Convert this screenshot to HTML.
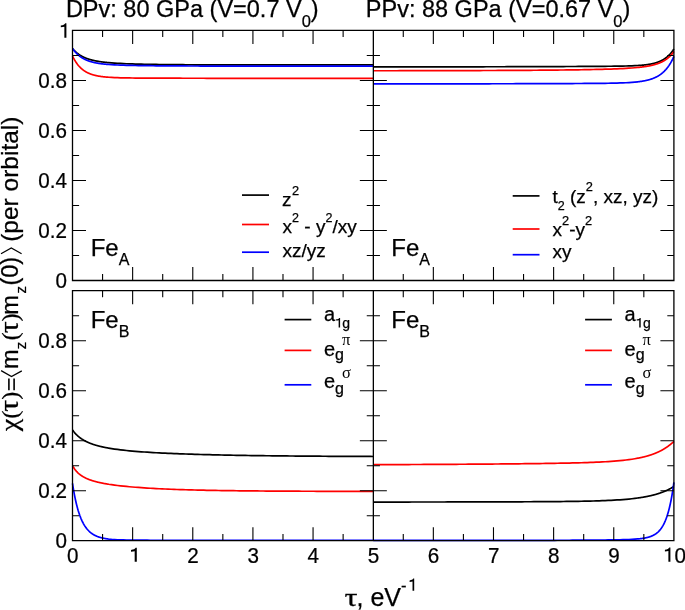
<!DOCTYPE html>
<html><head><meta charset="utf-8"><style>
html,body{margin:0;padding:0;background:#fff;overflow:hidden;}
svg{display:block;will-change:transform;}
text{font-family:"Liberation Sans",sans-serif;fill:#000;stroke:#000;stroke-width:0.25px;}
.ser{font-family:"Liberation Serif",serif;}
.thin{stroke-width:0;}
</style></head><body>
<svg width="685" height="610" viewBox="0 0 685 610">
<rect width="685" height="610" fill="#fff"/>
<g fill="none" stroke-width="1.7" stroke-linejoin="round">
<path d="M72.50,48.49 72.73,48.76 72.95,49.02 73.18,49.29 73.41,49.54 73.63,49.79 73.86,50.04 74.09,50.28 74.32,50.52 74.54,50.75 74.77,50.97 75.00,51.20 75.22,51.42 75.45,51.63 75.68,51.84 75.90,52.04 76.13,52.25 76.36,52.44 76.58,52.64 76.81,52.83 77.04,53.01 77.27,53.20 77.49,53.37 77.72,53.55 77.95,53.72 78.17,53.89 78.40,54.06 78.63,54.22 78.85,54.38 79.08,54.54 79.31,54.69 79.54,54.84 79.76,54.99 79.99,55.13 80.22,55.28 80.44,55.42 80.67,55.55 80.90,55.69 81.12,55.82 81.35,55.95 81.58,56.08 81.80,56.20 82.03,56.33 82.26,56.45 82.49,56.56 82.71,56.68 82.94,56.79 83.17,56.91 83.39,57.02 83.62,57.12 83.85,57.23 84.07,57.34 84.30,57.44 84.53,57.54 84.75,57.64 84.98,57.74 85.21,57.83 85.44,57.92 85.66,58.02 85.89,58.11 86.12,58.20 86.34,58.28 86.57,58.37 86.80,58.45 87.02,58.54 87.25,58.62 87.48,58.70 87.71,58.78 87.93,58.86 88.16,58.93 88.39,59.01 88.61,59.08 88.84,59.16 89.07,59.23 89.29,59.30 89.52,59.37 89.75,59.43 89.97,59.50 90.20,59.57 90.43,59.63 90.66,59.70 90.88,59.76 91.11,59.82 91.34,59.88 91.56,59.94 91.79,60.00 92.02,60.06 92.24,60.11 92.47,60.17 92.70,60.23 92.92,60.28 93.15,60.33 93.38,60.39 93.61,60.44 93.83,60.49 94.06,60.54 94.29,60.59 94.51,60.64 94.74,60.69 94.97,60.73 95.19,60.78 95.42,60.83 95.65,60.87 95.88,60.92 96.10,60.96 96.33,61.00 96.56,61.05 96.78,61.09 97.01,61.13 97.24,61.17 97.46,61.21 97.69,61.25 97.92,61.29 98.14,61.33 98.37,61.37 98.60,61.40 98.83,61.44 99.05,61.48 99.28,61.51 99.51,61.55 99.73,61.58 99.96,61.62 100.19,61.65 100.41,61.69 100.64,61.72 100.87,61.75 101.09,61.78 101.32,61.82 101.55,61.85 101.78,61.88 102.00,61.91 102.23,61.94 102.46,61.97 102.68,62.00 102.91,62.03 103.14,62.05 103.36,62.08 103.59,62.11 103.82,62.14 104.05,62.16 104.27,62.19 104.50,62.22 104.73,62.24 104.95,62.27 105.18,62.29 105.41,62.32 105.63,62.34 105.86,62.37 106.09,62.39 106.31,62.42 106.54,62.44 106.77,62.46 107.00,62.49 107.22,62.51 107.45,62.53 107.68,62.55 107.90,62.58 108.13,62.60 108.36,62.62 108.58,62.64 111.56,62.89 114.53,63.11 117.50,63.30 120.48,63.47 123.45,63.61 126.42,63.74 129.40,63.86 132.37,63.96 135.34,64.05 138.32,64.13 141.29,64.20 144.26,64.26 147.24,64.32 150.21,64.38 153.18,64.42 156.16,64.47 159.13,64.51 162.10,64.54 165.08,64.57 168.05,64.60 171.02,64.63 173.99,64.66 176.97,64.68 179.94,64.70 182.91,64.72 185.89,64.73 188.86,64.75 191.83,64.76 194.81,64.78 197.78,64.79 200.75,64.80 203.73,64.81 206.70,64.82 209.67,64.82 212.65,64.83 215.62,64.84 218.59,64.85 221.57,64.85 224.54,64.86 227.51,64.86 230.49,64.87 233.46,64.87 236.43,64.87 239.41,64.88 242.38,64.88 245.35,64.88 248.33,64.89 251.30,64.89 254.27,64.89 257.24,64.89 260.22,64.89 263.19,64.90 266.16,64.90 269.14,64.90 272.11,64.90 275.08,64.90 278.06,64.90 281.03,64.90 284.00,64.90 286.98,64.91 289.95,64.91 292.92,64.91 295.90,64.91 298.87,64.91 301.84,64.91 304.82,64.91 307.79,64.91 310.76,64.91 313.74,64.91 316.71,64.91 319.68,64.91 322.66,64.91 325.63,64.91 328.60,64.91 331.58,64.91 334.55,64.91 337.52,64.91 340.49,64.91 343.47,64.91 346.44,64.91 349.41,64.91 352.39,64.91 355.36,64.91 358.33,64.91 361.31,64.91 364.28,64.91 367.25,64.91 370.23,64.91 373.20,64.91" stroke="#000"/>
<path d="M72.50,55.98 72.73,56.45 72.95,56.91 73.18,57.37 73.41,57.81 73.63,58.25 73.86,58.67 74.09,59.09 74.32,59.49 74.54,59.89 74.77,60.28 75.00,60.66 75.22,61.03 75.45,61.40 75.68,61.75 75.90,62.10 76.13,62.44 76.36,62.77 76.58,63.10 76.81,63.42 77.04,63.73 77.27,64.03 77.49,64.33 77.72,64.62 77.95,64.91 78.17,65.19 78.40,65.46 78.63,65.73 78.85,65.99 79.08,66.24 79.31,66.49 79.54,66.74 79.76,66.98 79.99,67.21 80.22,67.44 80.44,67.66 80.67,67.88 80.90,68.10 81.12,68.31 81.35,68.51 81.58,68.71 81.80,68.91 82.03,69.10 82.26,69.29 82.49,69.47 82.71,69.65 82.94,69.83 83.17,70.00 83.39,70.17 83.62,70.33 83.85,70.50 84.07,70.65 84.30,70.81 84.53,70.96 84.75,71.11 84.98,71.25 85.21,71.39 85.44,71.53 85.66,71.67 85.89,71.80 86.12,71.93 86.34,72.06 86.57,72.18 86.80,72.31 87.02,72.42 87.25,72.54 87.48,72.66 87.71,72.77 87.93,72.88 88.16,72.98 88.39,73.09 88.61,73.19 88.84,73.29 89.07,73.39 89.29,73.49 89.52,73.58 89.75,73.67 89.97,73.76 90.20,73.85 90.43,73.94 90.66,74.02 90.88,74.11 91.11,74.19 91.34,74.27 91.56,74.34 91.79,74.42 92.02,74.49 92.24,74.57 92.47,74.64 92.70,74.71 92.92,74.78 93.15,74.84 93.38,74.91 93.61,74.97 93.83,75.04 94.06,75.10 94.29,75.16 94.51,75.22 94.74,75.28 94.97,75.33 95.19,75.39 95.42,75.44 95.65,75.50 95.88,75.55 96.10,75.60 96.33,75.65 96.56,75.70 96.78,75.75 97.01,75.79 97.24,75.84 97.46,75.88 97.69,75.93 97.92,75.97 98.14,76.01 98.37,76.05 98.60,76.09 98.83,76.13 99.05,76.17 99.28,76.21 99.51,76.25 99.73,76.28 99.96,76.32 100.19,76.35 100.41,76.39 100.64,76.42 100.87,76.46 101.09,76.49 101.32,76.52 101.55,76.55 101.78,76.58 102.00,76.61 102.23,76.64 102.46,76.67 102.68,76.70 102.91,76.72 103.14,76.75 103.36,76.78 103.59,76.80 103.82,76.83 104.05,76.85 104.27,76.88 104.50,76.90 104.73,76.92 104.95,76.95 105.18,76.97 105.41,76.99 105.63,77.01 105.86,77.03 106.09,77.05 106.31,77.07 106.54,77.09 106.77,77.11 107.00,77.13 107.22,77.15 107.45,77.17 107.68,77.19 107.90,77.20 108.13,77.22 108.36,77.24 108.58,77.25 111.56,77.44 114.53,77.59 117.50,77.70 120.48,77.79 123.45,77.86 126.42,77.92 129.40,77.96 132.37,78.00 135.34,78.03 138.32,78.06 141.29,78.08 144.26,78.10 147.24,78.11 150.21,78.13 153.18,78.14 156.16,78.15 159.13,78.16 162.10,78.17 165.08,78.18 168.05,78.19 171.02,78.20 173.99,78.21 176.97,78.22 179.94,78.22 182.91,78.23 185.89,78.24 188.86,78.24 191.83,78.25 194.81,78.26 197.78,78.26 200.75,78.27 203.73,78.27 206.70,78.28 209.67,78.28 212.65,78.29 215.62,78.29 218.59,78.30 221.57,78.30 224.54,78.30 227.51,78.31 230.49,78.31 233.46,78.32 236.43,78.32 239.41,78.32 242.38,78.33 245.35,78.33 248.33,78.33 251.30,78.34 254.27,78.34 257.24,78.34 260.22,78.34 263.19,78.35 266.16,78.35 269.14,78.35 272.11,78.35 275.08,78.36 278.06,78.36 281.03,78.36 284.00,78.36 286.98,78.36 289.95,78.37 292.92,78.37 295.90,78.37 298.87,78.37 301.84,78.37 304.82,78.37 307.79,78.38 310.76,78.38 313.74,78.38 316.71,78.38 319.68,78.38 322.66,78.38 325.63,78.38 328.60,78.39 331.58,78.39 334.55,78.39 337.52,78.39 340.49,78.39 343.47,78.39 346.44,78.39 349.41,78.39 352.39,78.39 355.36,78.39 358.33,78.40 361.31,78.40 364.28,78.40 367.25,78.40 370.23,78.40 373.20,78.40" stroke="#f00"/>
<path d="M72.50,48.48 72.73,48.81 72.95,49.13 73.18,49.44 73.41,49.74 73.63,50.04 73.86,50.34 74.09,50.62 74.32,50.91 74.54,51.18 74.77,51.45 75.00,51.72 75.22,51.98 75.45,52.23 75.68,52.48 75.90,52.73 76.13,52.97 76.36,53.21 76.58,53.44 76.81,53.66 77.04,53.88 77.27,54.10 77.49,54.31 77.72,54.52 77.95,54.73 78.17,54.93 78.40,55.12 78.63,55.32 78.85,55.51 79.08,55.69 79.31,55.87 79.54,56.05 79.76,56.23 79.99,56.40 80.22,56.56 80.44,56.73 80.67,56.89 80.90,57.05 81.12,57.20 81.35,57.36 81.58,57.50 81.80,57.65 82.03,57.79 82.26,57.93 82.49,58.07 82.71,58.21 82.94,58.34 83.17,58.47 83.39,58.60 83.62,58.72 83.85,58.84 84.07,58.96 84.30,59.08 84.53,59.20 84.75,59.31 84.98,59.42 85.21,59.53 85.44,59.64 85.66,59.74 85.89,59.84 86.12,59.95 86.34,60.04 86.57,60.14 86.80,60.24 87.02,60.33 87.25,60.42 87.48,60.51 87.71,60.60 87.93,60.69 88.16,60.77 88.39,60.85 88.61,60.94 88.84,61.02 89.07,61.09 89.29,61.17 89.52,61.25 89.75,61.32 89.97,61.39 90.20,61.47 90.43,61.54 90.66,61.60 90.88,61.67 91.11,61.74 91.34,61.80 91.56,61.87 91.79,61.93 92.02,61.99 92.24,62.05 92.47,62.11 92.70,62.17 92.92,62.23 93.15,62.28 93.38,62.34 93.61,62.39 93.83,62.45 94.06,62.50 94.29,62.55 94.51,62.60 94.74,62.65 94.97,62.70 95.19,62.74 95.42,62.79 95.65,62.84 95.88,62.88 96.10,62.93 96.33,62.97 96.56,63.01 96.78,63.05 97.01,63.10 97.24,63.14 97.46,63.18 97.69,63.21 97.92,63.25 98.14,63.29 98.37,63.33 98.60,63.36 98.83,63.40 99.05,63.44 99.28,63.47 99.51,63.50 99.73,63.54 99.96,63.57 100.19,63.60 100.41,63.63 100.64,63.66 100.87,63.70 101.09,63.73 101.32,63.76 101.55,63.78 101.78,63.81 102.00,63.84 102.23,63.87 102.46,63.90 102.68,63.92 102.91,63.95 103.14,63.97 103.36,64.00 103.59,64.02 103.82,64.05 104.05,64.07 104.27,64.10 104.50,64.12 104.73,64.14 104.95,64.17 105.18,64.19 105.41,64.21 105.63,64.23 105.86,64.25 106.09,64.27 106.31,64.29 106.54,64.31 106.77,64.33 107.00,64.35 107.22,64.37 107.45,64.39 107.68,64.41 107.90,64.43 108.13,64.45 108.36,64.47 108.58,64.48 111.56,64.69 114.53,64.86 117.50,65.00 120.48,65.12 123.45,65.22 126.42,65.31 129.40,65.39 132.37,65.45 135.34,65.51 138.32,65.56 141.29,65.61 144.26,65.65 147.24,65.69 150.21,65.72 153.18,65.75 156.16,65.78 159.13,65.81 162.10,65.83 165.08,65.86 168.05,65.88 171.02,65.90 173.99,65.91 176.97,65.93 179.94,65.95 182.91,65.96 185.89,65.97 188.86,65.99 191.83,66.00 194.81,66.01 197.78,66.02 200.75,66.03 203.73,66.04 206.70,66.05 209.67,66.05 212.65,66.06 215.62,66.07 218.59,66.07 221.57,66.08 224.54,66.09 227.51,66.09 230.49,66.10 233.46,66.10 236.43,66.10 239.41,66.11 242.38,66.11 245.35,66.12 248.33,66.12 251.30,66.12 254.27,66.12 257.24,66.13 260.22,66.13 263.19,66.13 266.16,66.13 269.14,66.14 272.11,66.14 275.08,66.14 278.06,66.14 281.03,66.14 284.00,66.15 286.98,66.15 289.95,66.15 292.92,66.15 295.90,66.15 298.87,66.15 301.84,66.15 304.82,66.15 307.79,66.15 310.76,66.16 313.74,66.16 316.71,66.16 319.68,66.16 322.66,66.16 325.63,66.16 328.60,66.16 331.58,66.16 334.55,66.16 337.52,66.16 340.49,66.16 343.47,66.16 346.44,66.16 349.41,66.16 352.39,66.16 355.36,66.16 358.33,66.16 361.31,66.16 364.28,66.16 367.25,66.16 370.23,66.17 373.20,66.17" stroke="#00f"/>
<path d="M673.90,48.95 673.67,49.30 673.45,49.64 673.22,49.98 672.99,50.31 672.77,50.64 672.54,50.95 672.31,51.26 672.08,51.57 671.86,51.87 671.63,52.16 671.40,52.44 671.18,52.72 670.95,53.00 670.72,53.27 670.50,53.53 670.27,53.79 670.04,54.04 669.82,54.29 669.59,54.53 669.36,54.77 669.13,55.00 668.91,55.23 668.68,55.45 668.45,55.67 668.23,55.88 668.00,56.09 667.77,56.29 667.55,56.50 667.32,56.69 667.09,56.88 666.86,57.07 666.64,57.26 666.41,57.44 666.18,57.62 665.96,57.79 665.73,57.96 665.50,58.13 665.28,58.29 665.05,58.45 664.82,58.61 664.60,58.76 664.37,58.91 664.14,59.06 663.91,59.20 663.69,59.34 663.46,59.48 663.23,59.62 663.01,59.75 662.78,59.88 662.55,60.01 662.33,60.13 662.10,60.25 661.87,60.37 661.65,60.49 661.42,60.60 661.19,60.72 660.96,60.83 660.74,60.93 660.51,61.04 660.28,61.14 660.06,61.24 659.83,61.34 659.60,61.44 659.38,61.54 659.15,61.63 658.92,61.72 658.69,61.81 658.47,61.90 658.24,61.99 658.01,62.07 657.79,62.15 657.56,62.23 657.33,62.31 657.11,62.39 656.88,62.47 656.65,62.54 656.43,62.61 656.20,62.69 655.97,62.76 655.74,62.82 655.52,62.89 655.29,62.96 655.06,63.02 654.84,63.09 654.61,63.15 654.38,63.21 654.16,63.27 653.93,63.33 653.70,63.38 653.48,63.44 653.25,63.49 653.02,63.55 652.79,63.60 652.57,63.65 652.34,63.70 652.11,63.75 651.89,63.80 651.66,63.85 651.43,63.90 651.21,63.94 650.98,63.99 650.75,64.03 650.52,64.07 650.30,64.12 650.07,64.16 649.84,64.20 649.62,64.24 649.39,64.28 649.16,64.31 648.94,64.35 648.71,64.39 648.48,64.42 648.26,64.46 648.03,64.49 647.80,64.53 647.57,64.56 647.35,64.59 647.12,64.63 646.89,64.66 646.67,64.69 646.44,64.72 646.21,64.75 645.99,64.78 645.76,64.80 645.53,64.83 645.31,64.86 645.08,64.89 644.85,64.91 644.62,64.94 644.40,64.96 644.17,64.99 643.94,65.01 643.72,65.03 643.49,65.06 643.26,65.08 643.04,65.10 642.81,65.13 642.58,65.15 642.35,65.17 642.13,65.19 641.90,65.21 641.67,65.23 641.45,65.25 641.22,65.27 640.99,65.29 640.77,65.30 640.54,65.32 640.31,65.34 640.09,65.36 639.86,65.38 639.63,65.39 639.40,65.41 639.18,65.42 638.95,65.44 638.72,65.46 638.50,65.47 638.27,65.49 638.04,65.50 637.82,65.52 634.84,65.68 631.87,65.81 628.90,65.92 625.92,66.00 622.95,66.07 619.98,66.12 617.00,66.17 614.03,66.21 611.06,66.24 608.08,66.27 605.11,66.30 602.14,66.32 599.16,66.34 596.19,66.36 593.22,66.38 590.24,66.40 587.27,66.42 584.30,66.43 581.32,66.45 578.35,66.46 575.38,66.48 572.41,66.49 569.43,66.50 566.46,66.52 563.49,66.53 560.51,66.54 557.54,66.55 554.57,66.57 551.59,66.58 548.62,66.59 545.65,66.60 542.67,66.61 539.70,66.62 536.73,66.63 533.75,66.64 530.78,66.65 527.81,66.66 524.83,66.67 521.86,66.68 518.89,66.69 515.91,66.70 512.94,66.70 509.97,66.71 506.99,66.72 504.02,66.73 501.05,66.74 498.07,66.74 495.10,66.75 492.13,66.76 489.16,66.77 486.18,66.77 483.21,66.78 480.24,66.79 477.26,66.79 474.29,66.80 471.32,66.81 468.34,66.81 465.37,66.82 462.40,66.82 459.42,66.83 456.45,66.83 453.48,66.84 450.50,66.85 447.53,66.85 444.56,66.86 441.58,66.86 438.61,66.87 435.64,66.87 432.66,66.88 429.69,66.88 426.72,66.88 423.74,66.89 420.77,66.89 417.80,66.90 414.82,66.90 411.85,66.90 408.88,66.91 405.91,66.91 402.93,66.92 399.96,66.92 396.99,66.92 394.01,66.93 391.04,66.93 388.07,66.93 385.09,66.94 382.12,66.94 379.15,66.94 376.17,66.95 373.20,66.95" stroke="#000"/>
<path d="M673.90,51.49 673.67,51.81 673.45,52.12 673.22,52.43 672.99,52.73 672.77,53.02 672.54,53.31 672.31,53.59 672.08,53.86 671.86,54.13 671.63,54.40 671.40,54.65 671.18,54.91 670.95,55.15 670.72,55.40 670.50,55.63 670.27,55.87 670.04,56.10 669.82,56.32 669.59,56.54 669.36,56.75 669.13,56.96 668.91,57.17 668.68,57.37 668.45,57.57 668.23,57.76 668.00,57.95 667.77,58.14 667.55,58.32 667.32,58.50 667.09,58.67 666.86,58.84 666.64,59.01 666.41,59.18 666.18,59.34 665.96,59.50 665.73,59.65 665.50,59.81 665.28,59.95 665.05,60.10 664.82,60.25 664.60,60.39 664.37,60.53 664.14,60.66 663.91,60.79 663.69,60.93 663.46,61.05 663.23,61.18 663.01,61.30 662.78,61.42 662.55,61.54 662.33,61.66 662.10,61.77 661.87,61.89 661.65,62.00 661.42,62.11 661.19,62.21 660.96,62.32 660.74,62.42 660.51,62.52 660.28,62.62 660.06,62.72 659.83,62.81 659.60,62.91 659.38,63.00 659.15,63.09 658.92,63.18 658.69,63.27 658.47,63.35 658.24,63.44 658.01,63.52 657.79,63.60 657.56,63.68 657.33,63.76 657.11,63.84 656.88,63.91 656.65,63.99 656.43,64.06 656.20,64.13 655.97,64.21 655.74,64.28 655.52,64.34 655.29,64.41 655.06,64.48 654.84,64.54 654.61,64.61 654.38,64.67 654.16,64.73 653.93,64.80 653.70,64.86 653.48,64.92 653.25,64.97 653.02,65.03 652.79,65.09 652.57,65.14 652.34,65.20 652.11,65.25 651.89,65.31 651.66,65.36 651.43,65.41 651.21,65.46 650.98,65.51 650.75,65.56 650.52,65.61 650.30,65.66 650.07,65.70 649.84,65.75 649.62,65.79 649.39,65.84 649.16,65.88 648.94,65.93 648.71,65.97 648.48,66.01 648.26,66.05 648.03,66.10 647.80,66.14 647.57,66.18 647.35,66.22 647.12,66.25 646.89,66.29 646.67,66.33 646.44,66.37 646.21,66.40 645.99,66.44 645.76,66.48 645.53,66.51 645.31,66.55 645.08,66.58 644.85,66.61 644.62,66.65 644.40,66.68 644.17,66.71 643.94,66.74 643.72,66.78 643.49,66.81 643.26,66.84 643.04,66.87 642.81,66.90 642.58,66.93 642.35,66.96 642.13,66.99 641.90,67.01 641.67,67.04 641.45,67.07 641.22,67.10 640.99,67.12 640.77,67.15 640.54,67.18 640.31,67.20 640.09,67.23 639.86,67.25 639.63,67.28 639.40,67.30 639.18,67.33 638.95,67.35 638.72,67.38 638.50,67.40 638.27,67.42 638.04,67.45 637.82,67.47 634.84,67.74 631.87,67.98 628.90,68.19 625.92,68.37 622.95,68.53 619.98,68.68 617.00,68.81 614.03,68.93 611.06,69.03 608.08,69.13 605.11,69.22 602.14,69.30 599.16,69.38 596.19,69.45 593.22,69.51 590.24,69.57 587.27,69.63 584.30,69.68 581.32,69.73 578.35,69.78 575.38,69.82 572.41,69.87 569.43,69.91 566.46,69.94 563.49,69.98 560.51,70.01 557.54,70.04 554.57,70.07 551.59,70.10 548.62,70.13 545.65,70.16 542.67,70.18 539.70,70.21 536.73,70.23 533.75,70.25 530.78,70.28 527.81,70.30 524.83,70.32 521.86,70.33 518.89,70.35 515.91,70.37 512.94,70.39 509.97,70.40 506.99,70.42 504.02,70.43 501.05,70.45 498.07,70.46 495.10,70.48 492.13,70.49 489.16,70.50 486.18,70.51 483.21,70.52 480.24,70.54 477.26,70.55 474.29,70.56 471.32,70.57 468.34,70.58 465.37,70.58 462.40,70.59 459.42,70.60 456.45,70.61 453.48,70.62 450.50,70.63 447.53,70.63 444.56,70.64 441.58,70.65 438.61,70.65 435.64,70.66 432.66,70.67 429.69,70.67 426.72,70.68 423.74,70.68 420.77,70.69 417.80,70.70 414.82,70.70 411.85,70.71 408.88,70.71 405.91,70.71 402.93,70.72 399.96,70.72 396.99,70.73 394.01,70.73 391.04,70.73 388.07,70.74 385.09,70.74 382.12,70.75 379.15,70.75 376.17,70.75 373.20,70.75" stroke="#f00"/>
<path d="M673.90,56.47 673.67,56.98 673.45,57.47 673.22,57.96 672.99,58.44 672.77,58.91 672.54,59.37 672.31,59.82 672.08,60.26 671.86,60.69 671.63,61.12 671.40,61.53 671.18,61.94 670.95,62.34 670.72,62.73 670.50,63.12 670.27,63.50 670.04,63.87 669.82,64.23 669.59,64.59 669.36,64.94 669.13,65.28 668.91,65.62 668.68,65.95 668.45,66.27 668.23,66.59 668.00,66.90 667.77,67.20 667.55,67.50 667.32,67.80 667.09,68.08 666.86,68.37 666.64,68.64 666.41,68.91 666.18,69.18 665.96,69.44 665.73,69.70 665.50,69.95 665.28,70.20 665.05,70.44 664.82,70.67 664.60,70.91 664.37,71.14 664.14,71.36 663.91,71.58 663.69,71.79 663.46,72.01 663.23,72.21 663.01,72.42 662.78,72.62 662.55,72.81 662.33,73.00 662.10,73.19 661.87,73.38 661.65,73.56 661.42,73.74 661.19,73.91 660.96,74.08 660.74,74.25 660.51,74.42 660.28,74.58 660.06,74.74 659.83,74.89 659.60,75.04 659.38,75.19 659.15,75.34 658.92,75.49 658.69,75.63 658.47,75.77 658.24,75.90 658.01,76.04 657.79,76.17 657.56,76.30 657.33,76.42 657.11,76.55 656.88,76.67 656.65,76.79 656.43,76.91 656.20,77.02 655.97,77.13 655.74,77.24 655.52,77.35 655.29,77.46 655.06,77.56 654.84,77.67 654.61,77.77 654.38,77.87 654.16,77.96 653.93,78.06 653.70,78.15 653.48,78.24 653.25,78.33 653.02,78.42 652.79,78.51 652.57,78.60 652.34,78.68 652.11,78.76 651.89,78.84 651.66,78.92 651.43,79.00 651.21,79.08 650.98,79.15 650.75,79.22 650.52,79.30 650.30,79.37 650.07,79.44 649.84,79.51 649.62,79.57 649.39,79.64 649.16,79.70 648.94,79.77 648.71,79.83 648.48,79.89 648.26,79.95 648.03,80.01 647.80,80.07 647.57,80.12 647.35,80.18 647.12,80.23 646.89,80.29 646.67,80.34 646.44,80.39 646.21,80.44 645.99,80.49 645.76,80.54 645.53,80.59 645.31,80.64 645.08,80.69 644.85,80.73 644.62,80.78 644.40,80.82 644.17,80.86 643.94,80.91 643.72,80.95 643.49,80.99 643.26,81.03 643.04,81.07 642.81,81.11 642.58,81.15 642.35,81.18 642.13,81.22 641.90,81.26 641.67,81.29 641.45,81.33 641.22,81.36 640.99,81.40 640.77,81.43 640.54,81.46 640.31,81.50 640.09,81.53 639.86,81.56 639.63,81.59 639.40,81.62 639.18,81.65 638.95,81.68 638.72,81.70 638.50,81.73 638.27,81.76 638.04,81.79 637.82,81.81 634.84,82.12 631.87,82.37 628.90,82.57 625.92,82.73 622.95,82.86 619.98,82.96 617.00,83.05 614.03,83.13 611.06,83.19 608.08,83.24 605.11,83.28 602.14,83.32 599.16,83.36 596.19,83.38 593.22,83.41 590.24,83.43 587.27,83.45 584.30,83.47 581.32,83.49 578.35,83.51 575.38,83.52 572.41,83.54 569.43,83.55 566.46,83.56 563.49,83.57 560.51,83.59 557.54,83.60 554.57,83.61 551.59,83.62 548.62,83.63 545.65,83.64 542.67,83.65 539.70,83.66 536.73,83.67 533.75,83.67 530.78,83.68 527.81,83.69 524.83,83.70 521.86,83.71 518.89,83.71 515.91,83.72 512.94,83.73 509.97,83.73 506.99,83.74 504.02,83.75 501.05,83.75 498.07,83.76 495.10,83.77 492.13,83.77 489.16,83.78 486.18,83.79 483.21,83.79 480.24,83.80 477.26,83.80 474.29,83.81 471.32,83.81 468.34,83.82 465.37,83.82 462.40,83.83 459.42,83.83 456.45,83.84 453.48,83.84 450.50,83.85 447.53,83.85 444.56,83.85 441.58,83.86 438.61,83.86 435.64,83.87 432.66,83.87 429.69,83.87 426.72,83.88 423.74,83.88 420.77,83.89 417.80,83.89 414.82,83.89 411.85,83.90 408.88,83.90 405.91,83.90 402.93,83.90 399.96,83.91 396.99,83.91 394.01,83.91 391.04,83.92 388.07,83.92 385.09,83.92 382.12,83.92 379.15,83.93 376.17,83.93 373.20,83.93" stroke="#00f"/>
<path d="M72.50,429.95 72.73,430.26 72.95,430.57 73.18,430.88 73.41,431.18 73.63,431.47 73.86,431.75 74.09,432.03 74.32,432.31 74.54,432.58 74.77,432.84 75.00,433.10 75.22,433.36 75.45,433.61 75.68,433.85 75.90,434.09 76.13,434.32 76.36,434.55 76.58,434.78 76.81,435.00 77.04,435.22 77.27,435.44 77.49,435.65 77.72,435.85 77.95,436.06 78.17,436.25 78.40,436.45 78.63,436.64 78.85,436.83 79.08,437.02 79.31,437.20 79.54,437.38 79.76,437.55 79.99,437.73 80.22,437.90 80.44,438.07 80.67,438.23 80.90,438.39 81.12,438.55 81.35,438.71 81.58,438.86 81.80,439.01 82.03,439.16 82.26,439.31 82.49,439.45 82.71,439.60 82.94,439.74 83.17,439.88 83.39,440.01 83.62,440.14 83.85,440.28 84.07,440.41 84.30,440.53 84.53,440.66 84.75,440.78 84.98,440.91 85.21,441.03 85.44,441.15 85.66,441.26 85.89,441.38 86.12,441.49 86.34,441.60 86.57,441.72 86.80,441.82 87.02,441.93 87.25,442.04 87.48,442.14 87.71,442.25 87.93,442.35 88.16,442.45 88.39,442.55 88.61,442.65 88.84,442.74 89.07,442.84 89.29,442.93 89.52,443.03 89.75,443.12 89.97,443.21 90.20,443.30 90.43,443.39 90.66,443.47 90.88,443.56 91.11,443.64 91.34,443.73 91.56,443.81 91.79,443.89 92.02,443.98 92.24,444.06 92.47,444.13 92.70,444.21 92.92,444.29 93.15,444.37 93.38,444.44 93.61,444.52 93.83,444.59 94.06,444.67 94.29,444.74 94.51,444.81 94.74,444.88 94.97,444.95 95.19,445.02 95.42,445.09 95.65,445.16 95.88,445.22 96.10,445.29 96.33,445.35 96.56,445.42 96.78,445.48 97.01,445.55 97.24,445.61 97.46,445.67 97.69,445.73 97.92,445.79 98.14,445.86 98.37,445.91 98.60,445.97 98.83,446.03 99.05,446.09 99.28,446.15 99.51,446.21 99.73,446.26 99.96,446.32 100.19,446.37 100.41,446.43 100.64,446.48 100.87,446.54 101.09,446.59 101.32,446.64 101.55,446.69 101.78,446.75 102.00,446.80 102.23,446.85 102.46,446.90 102.68,446.95 102.91,447.00 103.14,447.05 103.36,447.09 103.59,447.14 103.82,447.19 104.05,447.24 104.27,447.28 104.50,447.33 104.73,447.38 104.95,447.42 105.18,447.47 105.41,447.51 105.63,447.56 105.86,447.60 106.09,447.65 106.31,447.69 106.54,447.73 106.77,447.77 107.00,447.82 107.22,447.86 107.45,447.90 107.68,447.94 107.90,447.98 108.13,448.02 108.36,448.06 108.58,448.10 111.56,448.60 114.53,449.05 117.50,449.46 120.48,449.83 123.45,450.18 126.42,450.50 129.40,450.79 132.37,451.07 135.34,451.32 138.32,451.56 141.29,451.79 144.26,452.00 147.24,452.19 150.21,452.38 153.18,452.56 156.16,452.73 159.13,452.89 162.10,453.04 165.08,453.18 168.05,453.32 171.02,453.45 173.99,453.57 176.97,453.69 179.94,453.81 182.91,453.92 185.89,454.02 188.86,454.12 191.83,454.22 194.81,454.31 197.78,454.40 200.75,454.49 203.73,454.57 206.70,454.65 209.67,454.72 212.65,454.80 215.62,454.87 218.59,454.93 221.57,455.00 224.54,455.06 227.51,455.12 230.49,455.18 233.46,455.24 236.43,455.29 239.41,455.34 242.38,455.39 245.35,455.44 248.33,455.49 251.30,455.53 254.27,455.58 257.24,455.62 260.22,455.66 263.19,455.70 266.16,455.73 269.14,455.77 272.11,455.80 275.08,455.84 278.06,455.87 281.03,455.90 284.00,455.93 286.98,455.96 289.95,455.99 292.92,456.02 295.90,456.04 298.87,456.07 301.84,456.09 304.82,456.12 307.79,456.14 310.76,456.16 313.74,456.18 316.71,456.20 319.68,456.22 322.66,456.24 325.63,456.26 328.60,456.28 331.58,456.29 334.55,456.31 337.52,456.33 340.49,456.34 343.47,456.36 346.44,456.37 349.41,456.38 352.39,456.40 355.36,456.41 358.33,456.42 361.31,456.43 364.28,456.45 367.25,456.46 370.23,456.47 373.20,456.48" stroke="#000"/>
<path d="M72.50,465.70 72.73,466.10 72.95,466.49 73.18,466.87 73.41,467.24 73.63,467.60 73.86,467.94 74.09,468.28 74.32,468.61 74.54,468.93 74.77,469.24 75.00,469.54 75.22,469.84 75.45,470.12 75.68,470.40 75.90,470.68 76.13,470.94 76.36,471.20 76.58,471.45 76.81,471.70 77.04,471.94 77.27,472.17 77.49,472.40 77.72,472.62 77.95,472.84 78.17,473.05 78.40,473.26 78.63,473.47 78.85,473.66 79.08,473.86 79.31,474.05 79.54,474.23 79.76,474.41 79.99,474.59 80.22,474.77 80.44,474.94 80.67,475.10 80.90,475.27 81.12,475.43 81.35,475.58 81.58,475.74 81.80,475.89 82.03,476.03 82.26,476.18 82.49,476.32 82.71,476.46 82.94,476.60 83.17,476.73 83.39,476.86 83.62,476.99 83.85,477.12 84.07,477.24 84.30,477.36 84.53,477.48 84.75,477.60 84.98,477.72 85.21,477.83 85.44,477.95 85.66,478.06 85.89,478.16 86.12,478.27 86.34,478.38 86.57,478.48 86.80,478.58 87.02,478.68 87.25,478.78 87.48,478.88 87.71,478.97 87.93,479.07 88.16,479.16 88.39,479.25 88.61,479.34 88.84,479.43 89.07,479.52 89.29,479.60 89.52,479.69 89.75,479.77 89.97,479.85 90.20,479.94 90.43,480.02 90.66,480.09 90.88,480.17 91.11,480.25 91.34,480.33 91.56,480.40 91.79,480.48 92.02,480.55 92.24,480.62 92.47,480.69 92.70,480.76 92.92,480.83 93.15,480.90 93.38,480.97 93.61,481.04 93.83,481.10 94.06,481.17 94.29,481.23 94.51,481.30 94.74,481.36 94.97,481.42 95.19,481.49 95.42,481.55 95.65,481.61 95.88,481.67 96.10,481.73 96.33,481.79 96.56,481.84 96.78,481.90 97.01,481.96 97.24,482.01 97.46,482.07 97.69,482.12 97.92,482.18 98.14,482.23 98.37,482.29 98.60,482.34 98.83,482.39 99.05,482.44 99.28,482.49 99.51,482.55 99.73,482.60 99.96,482.65 100.19,482.69 100.41,482.74 100.64,482.79 100.87,482.84 101.09,482.89 101.32,482.93 101.55,482.98 101.78,483.03 102.00,483.07 102.23,483.12 102.46,483.16 102.68,483.21 102.91,483.25 103.14,483.30 103.36,483.34 103.59,483.38 103.82,483.43 104.05,483.47 104.27,483.51 104.50,483.55 104.73,483.59 104.95,483.63 105.18,483.67 105.41,483.71 105.63,483.75 105.86,483.79 106.09,483.83 106.31,483.87 106.54,483.91 106.77,483.95 107.00,483.99 107.22,484.03 107.45,484.06 107.68,484.10 107.90,484.14 108.13,484.17 108.36,484.21 108.58,484.25 111.56,484.70 114.53,485.11 117.50,485.48 120.48,485.83 123.45,486.15 126.42,486.45 129.40,486.73 132.37,487.00 135.34,487.24 138.32,487.47 141.29,487.68 144.26,487.89 147.24,488.08 150.21,488.26 153.18,488.43 156.16,488.59 159.13,488.74 162.10,488.88 165.08,489.01 168.05,489.14 171.02,489.26 173.99,489.37 176.97,489.48 179.94,489.58 182.91,489.68 185.89,489.77 188.86,489.85 191.83,489.94 194.81,490.01 197.78,490.08 200.75,490.15 203.73,490.22 206.70,490.28 209.67,490.34 212.65,490.40 215.62,490.45 218.59,490.50 221.57,490.55 224.54,490.59 227.51,490.63 230.49,490.67 233.46,490.71 236.43,490.75 239.41,490.79 242.38,490.82 245.35,490.85 248.33,490.88 251.30,490.91 254.27,490.93 257.24,490.96 260.22,490.99 263.19,491.01 266.16,491.03 269.14,491.05 272.11,491.07 275.08,491.09 278.06,491.11 281.03,491.13 284.00,491.14 286.98,491.16 289.95,491.17 292.92,491.19 295.90,491.20 298.87,491.21 301.84,491.23 304.82,491.24 307.79,491.25 310.76,491.26 313.74,491.27 316.71,491.28 319.68,491.29 322.66,491.30 325.63,491.31 328.60,491.32 331.58,491.33 334.55,491.33 337.52,491.34 340.49,491.35 343.47,491.35 346.44,491.36 349.41,491.37 352.39,491.37 355.36,491.38 358.33,491.38 361.31,491.39 364.28,491.39 367.25,491.40 370.23,491.40 373.20,491.41" stroke="#f00"/>
<path d="M72.50,483.48 72.73,484.94 72.95,486.37 73.18,487.75 73.41,489.10 73.63,490.42 73.86,491.70 74.09,492.94 74.32,494.15 74.54,495.33 74.77,496.48 75.00,497.60 75.22,498.68 75.45,499.74 75.68,500.77 75.90,501.78 76.13,502.75 76.36,503.71 76.58,504.63 76.81,505.53 77.04,506.41 77.27,507.27 77.49,508.10 77.72,508.91 77.95,509.70 78.17,510.47 78.40,511.21 78.63,511.94 78.85,512.65 79.08,513.34 79.31,514.02 79.54,514.67 79.76,515.31 79.99,515.93 80.22,516.54 80.44,517.13 80.67,517.71 80.90,518.27 81.12,518.81 81.35,519.34 81.58,519.86 81.80,520.37 82.03,520.86 82.26,521.34 82.49,521.80 82.71,522.26 82.94,522.70 83.17,523.13 83.39,523.55 83.62,523.96 83.85,524.36 84.07,524.75 84.30,525.13 84.53,525.50 84.75,525.86 84.98,526.21 85.21,526.55 85.44,526.89 85.66,527.21 85.89,527.53 86.12,527.84 86.34,528.14 86.57,528.43 86.80,528.72 87.02,529.00 87.25,529.27 87.48,529.53 87.71,529.79 87.93,530.04 88.16,530.29 88.39,530.53 88.61,530.76 88.84,530.99 89.07,531.21 89.29,531.43 89.52,531.64 89.75,531.84 89.97,532.04 90.20,532.24 90.43,532.43 90.66,532.62 90.88,532.80 91.11,532.98 91.34,533.15 91.56,533.32 91.79,533.48 92.02,533.64 92.24,533.80 92.47,533.95 92.70,534.10 92.92,534.24 93.15,534.39 93.38,534.52 93.61,534.66 93.83,534.79 94.06,534.92 94.29,535.04 94.51,535.17 94.74,535.28 94.97,535.40 95.19,535.51 95.42,535.62 95.65,535.73 95.88,535.84 96.10,535.94 96.33,536.04 96.56,536.14 96.78,536.23 97.01,536.33 97.24,536.42 97.46,536.51 97.69,536.59 97.92,536.68 98.14,536.76 98.37,536.84 98.60,536.92 98.83,537.00 99.05,537.07 99.28,537.15 99.51,537.22 99.73,537.29 99.96,537.36 100.19,537.42 100.41,537.49 100.64,537.55 100.87,537.61 101.09,537.67 101.32,537.73 101.55,537.79 101.78,537.85 102.00,537.90 102.23,537.95 102.46,538.01 102.68,538.06 102.91,538.11 103.14,538.16 103.36,538.20 103.59,538.25 103.82,538.30 104.05,538.34 104.27,538.38 104.50,538.43 104.73,538.47 104.95,538.51 105.18,538.55 105.41,538.58 105.63,538.62 105.86,538.66 106.09,538.69 106.31,538.73 106.54,538.76 106.77,538.80 107.00,538.83 107.22,538.86 107.45,538.89 107.68,538.92 107.90,538.95 108.13,538.98 108.36,539.01 108.58,539.04 111.56,539.35 114.53,539.58 117.50,539.75 120.48,539.87 123.45,539.97 126.42,540.04 129.40,540.09 132.37,540.13 135.34,540.16 138.32,540.18 141.29,540.20 144.26,540.21 147.24,540.22 150.21,540.23 153.18,540.24 156.16,540.24 159.13,540.24 162.10,540.24 165.08,540.25 168.05,540.25 171.02,540.25 173.99,540.25 176.97,540.25 179.94,540.25 182.91,540.25 185.89,540.25 188.86,540.25 191.83,540.25 194.81,540.25 197.78,540.25 200.75,540.25 203.73,540.25 206.70,540.25 209.67,540.25 212.65,540.25 215.62,540.25 218.59,540.25 221.57,540.25 224.54,540.25 227.51,540.25 230.49,540.25 233.46,540.25 236.43,540.25 239.41,540.25 242.38,540.25 245.35,540.25 248.33,540.25 251.30,540.25 254.27,540.25 257.24,540.25 260.22,540.25 263.19,540.25 266.16,540.25 269.14,540.25 272.11,540.25 275.08,540.25 278.06,540.25 281.03,540.25 284.00,540.25 286.98,540.25 289.95,540.25 292.92,540.25 295.90,540.25 298.87,540.25 301.84,540.25 304.82,540.25 307.79,540.25 310.76,540.25 313.74,540.25 316.71,540.25 319.68,540.25 322.66,540.25 325.63,540.25 328.60,540.25 331.58,540.25 334.55,540.25 337.52,540.25 340.49,540.25 343.47,540.25 346.44,540.25 349.41,540.25 352.39,540.25 355.36,540.25 358.33,540.25 361.31,540.25 364.28,540.25 367.25,540.25 370.23,540.25 373.20,540.25" stroke="#00f"/>
<path d="M673.90,486.45 673.67,486.60 673.45,486.74 673.22,486.89 672.99,487.03 672.77,487.17 672.54,487.31 672.31,487.45 672.08,487.59 671.86,487.72 671.63,487.86 671.40,487.99 671.18,488.12 670.95,488.25 670.72,488.38 670.50,488.50 670.27,488.63 670.04,488.75 669.82,488.87 669.59,488.99 669.36,489.11 669.13,489.23 668.91,489.34 668.68,489.46 668.45,489.57 668.23,489.69 668.00,489.80 667.77,489.91 667.55,490.02 667.32,490.13 667.09,490.23 666.86,490.34 666.64,490.44 666.41,490.55 666.18,490.65 665.96,490.75 665.73,490.85 665.50,490.95 665.28,491.05 665.05,491.14 664.82,491.24 664.60,491.33 664.37,491.43 664.14,491.52 663.91,491.61 663.69,491.71 663.46,491.80 663.23,491.89 663.01,491.97 662.78,492.06 662.55,492.15 662.33,492.23 662.10,492.32 661.87,492.40 661.65,492.49 661.42,492.57 661.19,492.65 660.96,492.73 660.74,492.81 660.51,492.89 660.28,492.97 660.06,493.05 659.83,493.12 659.60,493.20 659.38,493.28 659.15,493.35 658.92,493.42 658.69,493.50 658.47,493.57 658.24,493.64 658.01,493.71 657.79,493.78 657.56,493.85 657.33,493.92 657.11,493.99 656.88,494.06 656.65,494.13 656.43,494.19 656.20,494.26 655.97,494.32 655.74,494.39 655.52,494.45 655.29,494.52 655.06,494.58 654.84,494.64 654.61,494.70 654.38,494.76 654.16,494.82 653.93,494.88 653.70,494.94 653.48,495.00 653.25,495.06 653.02,495.12 652.79,495.17 652.57,495.23 652.34,495.29 652.11,495.34 651.89,495.40 651.66,495.45 651.43,495.51 651.21,495.56 650.98,495.61 650.75,495.67 650.52,495.72 650.30,495.77 650.07,495.82 649.84,495.87 649.62,495.92 649.39,495.97 649.16,496.02 648.94,496.07 648.71,496.12 648.48,496.17 648.26,496.21 648.03,496.26 647.80,496.31 647.57,496.35 647.35,496.40 647.12,496.44 646.89,496.49 646.67,496.53 646.44,496.58 646.21,496.62 645.99,496.67 645.76,496.71 645.53,496.75 645.31,496.79 645.08,496.84 644.85,496.88 644.62,496.92 644.40,496.96 644.17,497.00 643.94,497.04 643.72,497.08 643.49,497.12 643.26,497.16 643.04,497.20 642.81,497.23 642.58,497.27 642.35,497.31 642.13,497.35 641.90,497.38 641.67,497.42 641.45,497.46 641.22,497.49 640.99,497.53 640.77,497.56 640.54,497.60 640.31,497.63 640.09,497.67 639.86,497.70 639.63,497.73 639.40,497.77 639.18,497.80 638.95,497.83 638.72,497.87 638.50,497.90 638.27,497.93 638.04,497.96 637.82,497.99 634.84,498.38 631.87,498.73 628.90,499.03 625.92,499.31 622.95,499.56 619.98,499.78 617.00,499.97 614.03,500.15 611.06,500.31 608.08,500.45 605.11,500.58 602.14,500.69 599.16,500.80 596.19,500.89 593.22,500.98 590.24,501.05 587.27,501.12 584.30,501.18 581.32,501.24 578.35,501.29 575.38,501.34 572.41,501.38 569.43,501.42 566.46,501.46 563.49,501.49 560.51,501.53 557.54,501.55 554.57,501.58 551.59,501.61 548.62,501.63 545.65,501.65 542.67,501.67 539.70,501.69 536.73,501.70 533.75,501.72 530.78,501.74 527.81,501.75 524.83,501.76 521.86,501.78 518.89,501.79 515.91,501.80 512.94,501.81 509.97,501.82 506.99,501.83 504.02,501.84 501.05,501.85 498.07,501.86 495.10,501.87 492.13,501.88 489.16,501.89 486.18,501.89 483.21,501.90 480.24,501.91 477.26,501.91 474.29,501.92 471.32,501.93 468.34,501.93 465.37,501.94 462.40,501.94 459.42,501.95 456.45,501.96 453.48,501.96 450.50,501.97 447.53,501.97 444.56,501.98 441.58,501.98 438.61,501.99 435.64,501.99 432.66,501.99 429.69,502.00 426.72,502.00 423.74,502.01 420.77,502.01 417.80,502.01 414.82,502.02 411.85,502.02 408.88,502.03 405.91,502.03 402.93,502.03 399.96,502.04 396.99,502.04 394.01,502.04 391.04,502.04 388.07,502.05 385.09,502.05 382.12,502.05 379.15,502.06 376.17,502.06 373.20,502.06" stroke="#000"/>
<path d="M673.90,441.37 673.67,441.59 673.45,441.80 673.22,442.01 672.99,442.22 672.77,442.43 672.54,442.63 672.31,442.83 672.08,443.03 671.86,443.23 671.63,443.43 671.40,443.62 671.18,443.81 670.95,444.00 670.72,444.19 670.50,444.37 670.27,444.56 670.04,444.74 669.82,444.92 669.59,445.10 669.36,445.27 669.13,445.45 668.91,445.62 668.68,445.79 668.45,445.96 668.23,446.12 668.00,446.29 667.77,446.45 667.55,446.61 667.32,446.77 667.09,446.93 666.86,447.09 666.64,447.24 666.41,447.40 666.18,447.55 665.96,447.70 665.73,447.85 665.50,447.99 665.28,448.14 665.05,448.28 664.82,448.43 664.60,448.57 664.37,448.71 664.14,448.84 663.91,448.98 663.69,449.12 663.46,449.25 663.23,449.38 663.01,449.51 662.78,449.64 662.55,449.77 662.33,449.90 662.10,450.02 661.87,450.15 661.65,450.27 661.42,450.39 661.19,450.51 660.96,450.63 660.74,450.75 660.51,450.87 660.28,450.98 660.06,451.10 659.83,451.21 659.60,451.32 659.38,451.43 659.15,451.54 658.92,451.65 658.69,451.76 658.47,451.87 658.24,451.97 658.01,452.08 657.79,452.18 657.56,452.28 657.33,452.38 657.11,452.48 656.88,452.58 656.65,452.68 656.43,452.78 656.20,452.88 655.97,452.97 655.74,453.07 655.52,453.16 655.29,453.25 655.06,453.34 654.84,453.43 654.61,453.52 654.38,453.61 654.16,453.70 653.93,453.79 653.70,453.87 653.48,453.96 653.25,454.04 653.02,454.13 652.79,454.21 652.57,454.29 652.34,454.37 652.11,454.45 651.89,454.53 651.66,454.61 651.43,454.69 651.21,454.76 650.98,454.84 650.75,454.92 650.52,454.99 650.30,455.07 650.07,455.14 649.84,455.21 649.62,455.28 649.39,455.36 649.16,455.43 648.94,455.50 648.71,455.57 648.48,455.63 648.26,455.70 648.03,455.77 647.80,455.84 647.57,455.90 647.35,455.97 647.12,456.03 646.89,456.09 646.67,456.16 646.44,456.22 646.21,456.28 645.99,456.34 645.76,456.41 645.53,456.47 645.31,456.53 645.08,456.58 644.85,456.64 644.62,456.70 644.40,456.76 644.17,456.82 643.94,456.87 643.72,456.93 643.49,456.98 643.26,457.04 643.04,457.09 642.81,457.15 642.58,457.20 642.35,457.25 642.13,457.30 641.90,457.36 641.67,457.41 641.45,457.46 641.22,457.51 640.99,457.56 640.77,457.61 640.54,457.66 640.31,457.71 640.09,457.75 639.86,457.80 639.63,457.85 639.40,457.89 639.18,457.94 638.95,457.99 638.72,458.03 638.50,458.08 638.27,458.12 638.04,458.16 637.82,458.21 634.84,458.74 631.87,459.22 628.90,459.64 625.92,460.02 622.95,460.35 619.98,460.65 617.00,460.92 614.03,461.16 611.06,461.38 608.08,461.58 605.11,461.75 602.14,461.92 599.16,462.06 596.19,462.20 593.22,462.32 590.24,462.44 587.27,462.54 584.30,462.64 581.32,462.73 578.35,462.81 575.38,462.89 572.41,462.96 569.43,463.03 566.46,463.09 563.49,463.15 560.51,463.21 557.54,463.26 554.57,463.32 551.59,463.37 548.62,463.41 545.65,463.46 542.67,463.50 539.70,463.54 536.73,463.58 533.75,463.62 530.78,463.65 527.81,463.69 524.83,463.72 521.86,463.76 518.89,463.79 515.91,463.82 512.94,463.85 509.97,463.88 506.99,463.91 504.02,463.93 501.05,463.96 498.07,463.99 495.10,464.01 492.13,464.04 489.16,464.06 486.18,464.08 483.21,464.11 480.24,464.13 477.26,464.15 474.29,464.17 471.32,464.19 468.34,464.21 465.37,464.23 462.40,464.25 459.42,464.27 456.45,464.29 453.48,464.30 450.50,464.32 447.53,464.34 444.56,464.36 441.58,464.37 438.61,464.39 435.64,464.40 432.66,464.42 429.69,464.43 426.72,464.45 423.74,464.46 420.77,464.48 417.80,464.49 414.82,464.50 411.85,464.51 408.88,464.53 405.91,464.54 402.93,464.55 399.96,464.56 396.99,464.57 394.01,464.59 391.04,464.60 388.07,464.61 385.09,464.62 382.12,464.63 379.15,464.64 376.17,464.65 373.20,464.66" stroke="#f00"/>
<path d="M673.90,482.44 673.67,484.11 673.45,485.74 673.22,487.32 672.99,488.85 672.77,490.34 672.54,491.78 672.31,493.18 672.08,494.53 671.86,495.85 671.63,497.12 671.40,498.36 671.18,499.56 670.95,500.72 670.72,501.85 670.50,502.95 670.27,504.01 670.04,505.05 669.82,506.05 669.59,507.02 669.36,507.96 669.13,508.87 668.91,509.76 668.68,510.62 668.45,511.46 668.23,512.27 668.00,513.05 667.77,513.81 667.55,514.55 667.32,515.27 667.09,515.97 666.86,516.65 666.64,517.30 666.41,517.94 666.18,518.56 665.96,519.16 665.73,519.74 665.50,520.30 665.28,520.85 665.05,521.38 664.82,521.90 664.60,522.40 664.37,522.89 664.14,523.36 663.91,523.82 663.69,524.26 663.46,524.70 663.23,525.11 663.01,525.52 662.78,525.92 662.55,526.30 662.33,526.67 662.10,527.03 661.87,527.39 661.65,527.73 661.42,528.06 661.19,528.38 660.96,528.69 660.74,528.99 660.51,529.29 660.28,529.57 660.06,529.85 659.83,530.12 659.60,530.38 659.38,530.64 659.15,530.88 658.92,531.12 658.69,531.35 658.47,531.58 658.24,531.80 658.01,532.01 657.79,532.22 657.56,532.42 657.33,532.62 657.11,532.81 656.88,532.99 656.65,533.17 656.43,533.35 656.20,533.52 655.97,533.68 655.74,533.84 655.52,534.00 655.29,534.15 655.06,534.30 654.84,534.44 654.61,534.58 654.38,534.71 654.16,534.84 653.93,534.97 653.70,535.09 653.48,535.21 653.25,535.33 653.02,535.45 652.79,535.56 652.57,535.66 652.34,535.77 652.11,535.87 651.89,535.97 651.66,536.07 651.43,536.16 651.21,536.25 650.98,536.34 650.75,536.43 650.52,536.51 650.30,536.59 650.07,536.67 649.84,536.75 649.62,536.82 649.39,536.90 649.16,536.97 648.94,537.04 648.71,537.11 648.48,537.17 648.26,537.24 648.03,537.30 647.80,537.36 647.57,537.42 647.35,537.48 647.12,537.53 646.89,537.59 646.67,537.64 646.44,537.69 646.21,537.74 645.99,537.79 645.76,537.84 645.53,537.89 645.31,537.93 645.08,537.98 644.85,538.02 644.62,538.06 644.40,538.10 644.17,538.14 643.94,538.18 643.72,538.22 643.49,538.26 643.26,538.29 643.04,538.33 642.81,538.36 642.58,538.40 642.35,538.43 642.13,538.46 641.90,538.49 641.67,538.52 641.45,538.55 641.22,538.58 640.99,538.61 640.77,538.64 640.54,538.67 640.31,538.69 640.09,538.72 639.86,538.74 639.63,538.77 639.40,538.79 639.18,538.82 638.95,538.84 638.72,538.86 638.50,538.88 638.27,538.90 638.04,538.93 637.82,538.95 634.84,539.18 631.87,539.35 628.90,539.49 625.92,539.60 622.95,539.69 619.98,539.76 617.00,539.82 614.03,539.87 611.06,539.92 608.08,539.96 605.11,539.99 602.14,540.03 599.16,540.05 596.19,540.08 593.22,540.10 590.24,540.13 587.27,540.15 584.30,540.16 581.32,540.18 578.35,540.19 575.38,540.21 572.41,540.22 569.43,540.23 566.46,540.24 563.49,540.25 560.51,540.26 557.54,540.27 554.57,540.28 551.59,540.28 548.62,540.29 545.65,540.30 542.67,540.30 539.70,540.31 536.73,540.31 533.75,540.32 530.78,540.32 527.81,540.32 524.83,540.33 521.86,540.33 518.89,540.33 515.91,540.34 512.94,540.34 509.97,540.34 506.99,540.34 504.02,540.34 501.05,540.35 498.07,540.35 495.10,540.35 492.13,540.35 489.16,540.35 486.18,540.35 483.21,540.35 480.24,540.35 477.26,540.36 474.29,540.36 471.32,540.36 468.34,540.36 465.37,540.36 462.40,540.36 459.42,540.36 456.45,540.36 453.48,540.36 450.50,540.36 447.53,540.36 444.56,540.36 441.58,540.36 438.61,540.36 435.64,540.36 432.66,540.36 429.69,540.36 426.72,540.36 423.74,540.36 420.77,540.36 417.80,540.36 414.82,540.36 411.85,540.36 408.88,540.36 405.91,540.36 402.93,540.36 399.96,540.36 396.99,540.36 394.01,540.37 391.04,540.37 388.07,540.37 385.09,540.37 382.12,540.37 379.15,540.37 376.17,540.37 373.20,540.37" stroke="#00f"/>
</g>
<path d="M102.57,30.45 v6.6 M102.57,280.5 v-6.6 M132.64,30.45 v13.5 M132.64,280.5 v-13.5 M162.71,30.45 v6.6 M162.71,280.5 v-6.6 M192.78,30.45 v13.5 M192.78,280.5 v-13.5 M222.85,30.45 v6.6 M222.85,280.5 v-6.6 M252.92,30.45 v13.5 M252.92,280.5 v-13.5 M282.99,30.45 v6.6 M282.99,280.5 v-6.6 M313.06,30.45 v13.5 M313.06,280.5 v-13.5 M343.13,30.45 v6.6 M343.13,280.5 v-6.6 M403.27,30.45 v6.6 M403.27,280.5 v-6.6 M433.34,30.45 v13.5 M433.34,280.5 v-13.5 M463.41,30.45 v6.6 M463.41,280.5 v-6.6 M493.48,30.45 v13.5 M493.48,280.5 v-13.5 M523.55,30.45 v6.6 M523.55,280.5 v-6.6 M553.62,30.45 v13.5 M553.62,280.5 v-13.5 M583.69,30.45 v6.6 M583.69,280.5 v-6.6 M613.76,30.45 v13.5 M613.76,280.5 v-13.5 M643.83,30.45 v6.6 M643.83,280.5 v-6.6 M72.5,255.50 h6.6 M373.35,255.50 h-6.6 M373.35,255.50 h6.6 M673.9,255.50 h-6.6 M72.5,230.50 h13.5 M373.35,230.50 h-13.5 M373.35,230.50 h13.5 M673.9,230.50 h-13.5 M72.5,205.50 h6.6 M373.35,205.50 h-6.6 M373.35,205.50 h6.6 M673.9,205.50 h-6.6 M72.5,180.50 h13.5 M373.35,180.50 h-13.5 M373.35,180.50 h13.5 M673.9,180.50 h-13.5 M72.5,155.50 h6.6 M373.35,155.50 h-6.6 M373.35,155.50 h6.6 M673.9,155.50 h-6.6 M72.5,130.50 h13.5 M373.35,130.50 h-13.5 M373.35,130.50 h13.5 M673.9,130.50 h-13.5 M72.5,105.50 h6.6 M373.35,105.50 h-6.6 M373.35,105.50 h6.6 M673.9,105.50 h-6.6 M72.5,80.50 h13.5 M373.35,80.50 h-13.5 M373.35,80.50 h13.5 M673.9,80.50 h-13.5 M72.5,55.50 h6.6 M373.35,55.50 h-6.6 M373.35,55.50 h6.6 M673.9,55.50 h-6.6 M102.57,290.7 v6.6 M102.57,540.7 v-6.6 M132.64,290.7 v13.5 M132.64,540.7 v-13.5 M162.71,290.7 v6.6 M162.71,540.7 v-6.6 M192.78,290.7 v13.5 M192.78,540.7 v-13.5 M222.85,290.7 v6.6 M222.85,540.7 v-6.6 M252.92,290.7 v13.5 M252.92,540.7 v-13.5 M282.99,290.7 v6.6 M282.99,540.7 v-6.6 M313.06,290.7 v13.5 M313.06,540.7 v-13.5 M343.13,290.7 v6.6 M343.13,540.7 v-6.6 M403.27,290.7 v6.6 M403.27,540.7 v-6.6 M433.34,290.7 v13.5 M433.34,540.7 v-13.5 M463.41,290.7 v6.6 M463.41,540.7 v-6.6 M493.48,290.7 v13.5 M493.48,540.7 v-13.5 M523.55,290.7 v6.6 M523.55,540.7 v-6.6 M553.62,290.7 v13.5 M553.62,540.7 v-13.5 M583.69,290.7 v6.6 M583.69,540.7 v-6.6 M613.76,290.7 v13.5 M613.76,540.7 v-13.5 M643.83,290.7 v6.6 M643.83,540.7 v-6.6 M72.5,515.70 h6.6 M373.35,515.70 h-6.6 M373.35,515.70 h6.6 M673.9,515.70 h-6.6 M72.5,490.70 h13.5 M373.35,490.70 h-13.5 M373.35,490.70 h13.5 M673.9,490.70 h-13.5 M72.5,465.70 h6.6 M373.35,465.70 h-6.6 M373.35,465.70 h6.6 M673.9,465.70 h-6.6 M72.5,440.70 h13.5 M373.35,440.70 h-13.5 M373.35,440.70 h13.5 M673.9,440.70 h-13.5 M72.5,415.70 h6.6 M373.35,415.70 h-6.6 M373.35,415.70 h6.6 M673.9,415.70 h-6.6 M72.5,390.70 h13.5 M373.35,390.70 h-13.5 M373.35,390.70 h13.5 M673.9,390.70 h-13.5 M72.5,365.70 h6.6 M373.35,365.70 h-6.6 M373.35,365.70 h6.6 M673.9,365.70 h-6.6 M72.5,340.70 h13.5 M373.35,340.70 h-13.5 M373.35,340.70 h13.5 M673.9,340.70 h-13.5 M72.5,315.70 h6.6 M373.35,315.70 h-6.6 M373.35,315.70 h6.6 M673.9,315.70 h-6.6" stroke="#000" stroke-width="1.1" fill="none"/>
<path d="M72.5,30.45 H673.9 V280.5 H72.5 Z M373.35,30.45 V280.5 M72.5,290.7 H673.9 V540.7 H72.5 Z M373.35,290.7 V540.7" stroke="#000" stroke-width="1.3" fill="none"/>
<g font-size="22.2">
<text transform="translate(66.90,288.10) scale(0.93,1)" text-anchor="end">0</text>
<text transform="translate(66.90,238.10) scale(0.93,1)" text-anchor="end">0.2</text>
<text transform="translate(66.90,188.10) scale(0.93,1)" text-anchor="end">0.4</text>
<text transform="translate(66.90,138.10) scale(0.93,1)" text-anchor="end">0.6</text>
<text transform="translate(66.90,88.10) scale(0.93,1)" text-anchor="end">0.8</text>
<text transform="translate(66.90,548.30) scale(0.93,1)" text-anchor="end">0</text>
<text transform="translate(66.90,498.30) scale(0.93,1)" text-anchor="end">0.2</text>
<text transform="translate(66.90,448.30) scale(0.93,1)" text-anchor="end">0.4</text>
<text transform="translate(66.90,398.30) scale(0.93,1)" text-anchor="end">0.6</text>
<text transform="translate(66.90,348.30) scale(0.93,1)" text-anchor="end">0.8</text>
<text transform="translate(72.70,562.70) scale(0.93,1)" text-anchor="middle">0</text>
<text transform="translate(192.98,562.70) scale(0.93,1)" text-anchor="middle">2</text>
<text transform="translate(253.12,562.70) scale(0.93,1)" text-anchor="middle">3</text>
<text transform="translate(313.26,562.70) scale(0.93,1)" text-anchor="middle">4</text>
<text transform="translate(373.40,562.70) scale(0.93,1)" text-anchor="middle">5</text>
<text transform="translate(433.54,562.70) scale(0.93,1)" text-anchor="middle">6</text>
<text transform="translate(493.68,562.70) scale(0.93,1)" text-anchor="middle">7</text>
<text transform="translate(553.82,562.70) scale(0.93,1)" text-anchor="middle">8</text>
<text transform="translate(613.96,562.70) scale(0.93,1)" text-anchor="middle">9</text>
<text transform="translate(674.60,562.70) scale(0.93,1)" text-anchor="start">0</text>
</g>
<text x="65.9" y="16.9" font-size="23.5">DPv: 80 GPa (V=0.7 V<tspan font-size="16.5" dy="9.8">0</tspan><tspan dy="-9.8">)</tspan></text>
<text x="365.8" y="16.9" font-size="23.5">PPv: 88 GPa (V=0.67 V<tspan font-size="16.5" dy="9.8">0</tspan><tspan dy="-9.8">)</tspan></text>
<text x="90.7" y="256" font-size="24">Fe<tspan font-size="16" dy="8.7">A</tspan></text>
<text x="391.3" y="256" font-size="24">Fe<tspan font-size="16" dy="8.7">A</tspan></text>
<text x="90.7" y="328.2" font-size="24">Fe<tspan font-size="16" dy="9.2">B</tspan></text>
<text x="391.3" y="328.2" font-size="24">Fe<tspan font-size="16" dy="9.2">B</tspan></text>
<g fill="none" stroke-width="1.7">
<path d="M242,195.1 H269" stroke="#000"/><path d="M242,224.5 H269" stroke="#f00"/><path d="M242,252.2 H269" stroke="#00f"/>
<path d="M512.7,195.9 H539.5" stroke="#000"/><path d="M512.7,229.0 H539.5" stroke="#f00"/><path d="M512.7,254.7 H539.5" stroke="#00f"/>
<path d="M284.6,319.6 H311.3" stroke="#000"/><path d="M284.6,350.4 H311.3" stroke="#f00"/><path d="M284.6,384.8 H311.3" stroke="#00f"/>
<path d="M585.1,319.6 H611.9" stroke="#000"/><path d="M585.1,350.4 H611.9" stroke="#f00"/><path d="M585.1,384.8 H611.9" stroke="#00f"/>
</g>
<g font-size="19">
<text x="282" y="205.5">z<tspan font-size="12.8" dy="-10.9" dx="0.6">2</tspan></text>
<text x="282.6" y="232.7">x<tspan font-size="12.5" dy="-10.9">2</tspan><tspan dy="10.9"> - y</tspan><tspan font-size="12.5" dy="-10.9">2</tspan><tspan dy="10.9">/xy</tspan></text>
<text x="282.6" y="256.7">xz/yz</text>
<text x="552.5" y="202.6">t<tspan font-size="12.5" dy="7.2">2</tspan><tspan dy="-7.2"> (z</tspan><tspan font-size="12.8" dy="-12">2</tspan><tspan dy="12">, xz, yz)</tspan></text>
<text x="552.6" y="236.4">x<tspan font-size="12.8" dy="-11.8">2</tspan><tspan dy="11.8">-y</tspan><tspan font-size="12.8" dy="-11.8">2</tspan></text>
<text x="552.6" y="258.4">xy</text>
</g>
<g font-size="20">
<text x="323.9" y="321">a</text><text x="342.3" y="327.5" font-size="14">g</text>
<text x="323.9" y="355.6">e<tspan font-size="16" dy="4.8">g</tspan><tspan class="ser thin" font-size="16.5" dy="-15.6" dx="-2">π</tspan></text>
<text x="323.9" y="388.2">e<tspan font-size="16" dy="6">g</tspan><tspan class="ser thin" font-size="16.5" dy="-16.6" dx="-2">σ</tspan></text>
<text x="624.5" y="321">a</text><text x="642.9" y="327.5" font-size="14">g</text>
<text x="624.5" y="355.6">e<tspan font-size="16" dy="4.8">g</tspan><tspan class="ser thin" font-size="16.5" dy="-15.6" dx="-2">π</tspan></text>
<text x="624.5" y="388.2">e<tspan font-size="16" dy="6">g</tspan><tspan class="ser thin" font-size="16.5" dy="-16.6" dx="-2">σ</tspan></text>
</g>
<text transform="translate(344.6,606.2) scale(1.25,1)" x="0" y="0" font-size="26" class="ser">τ</text>
<text x="356.6" y="606" font-size="25">,</text>
<text x="370.4" y="606" font-size="25">eV<tspan font-size="16.5" dy="-15">-</tspan></text>
<path d="M64.36,37.70 L66.40,37.70 L66.40,23.20 L65.28,23.20 C64.72,24.36 63.21,25.23 60.80,25.38 L60.80,27.25 C62.14,27.25 63.43,27.00 64.36,26.72 Z M134.68,561.80 L136.80,561.80 L136.80,547.80 L135.64,547.80 C135.06,548.92 133.49,549.76 131.00,549.90 L131.00,551.71 C132.39,551.71 133.73,551.47 134.68,551.20 Z M668.39,561.80 L670.40,561.80 L670.40,547.60 L669.30,547.60 C668.75,548.74 667.26,549.59 664.90,549.73 L664.90,551.56 C666.22,551.56 667.49,551.32 668.39,551.05 Z M412.52,590.70 L414.20,590.70 L414.20,578.60 L413.28,578.60 C412.82,579.57 411.58,580.29 409.60,580.42 L409.60,581.98 C410.70,581.98 411.76,581.77 412.52,581.54 Z M338.64,327.40 L340.10,327.40 L340.10,317.90 L339.30,317.90 C338.90,318.66 337.82,319.23 336.10,319.32 L336.10,320.55 C337.06,320.55 337.98,320.39 338.64,320.21 Z M639.24,327.40 L640.70,327.40 L640.70,317.90 L639.90,317.90 C639.50,318.66 638.42,319.23 636.70,319.32 L636.70,320.55 C637.66,320.55 638.58,320.39 639.24,320.21 Z" fill="#000"/>
<text class="ser" transform="translate(17.80,0) rotate(-90) scale(1.08,1)" x="-399.26" y="0" font-size="26">χ</text>
<text class="ser" transform="translate(17.80,0) rotate(-90)" x="-418.56" y="0" font-size="24">(</text>
<text class="ser" transform="translate(17.80,0) rotate(-90) scale(1.12,1)" x="-367.73" y="0" font-size="26.5">τ</text>
<text class="ser" transform="translate(17.80,0) rotate(-90)" x="-399.67" y="0" font-size="24">)</text>
<text transform="translate(17.80,0) rotate(-90)" x="-369.10" y="0" font-size="23.5">m</text>
<text transform="translate(25.80,0) rotate(-90)" x="-349.20" y="0" font-size="15">z</text>
<text class="ser" transform="translate(17.80,0) rotate(-90)" x="-340.36" y="0" font-size="24">(</text>
<text class="ser" transform="translate(17.80,0) rotate(-90) scale(1.12,1)" x="-297.55" y="0" font-size="26.5">τ</text>
<text class="ser" transform="translate(17.80,0) rotate(-90)" x="-321.57" y="0" font-size="24">)</text>
<text transform="translate(17.80,0) rotate(-90)" x="-314.70" y="0" font-size="23.5">m</text>
<text transform="translate(25.80,0) rotate(-90)" x="-293.40" y="0" font-size="15">z</text>
<text transform="translate(17.80,0) rotate(-90)" x="-285.60" y="0" font-size="23.5">(0)</text>
<text transform="translate(17.80,0) rotate(-90)" x="-241.80" y="0" font-size="24.5">(per orbital)</text>
<path d="M1.1,370.6 L11.5,376.6 L21.8,370.9 M1,253.8 L11.3,248 L21.6,253.8" stroke="#000" stroke-width="1.25" fill="none" stroke-linejoin="miter"/><path d="M8.9,378.6 V390.3 M14.1,378.6 V390.3" stroke="#000" stroke-width="1.6" fill="none"/>
</svg>
</body></html>
